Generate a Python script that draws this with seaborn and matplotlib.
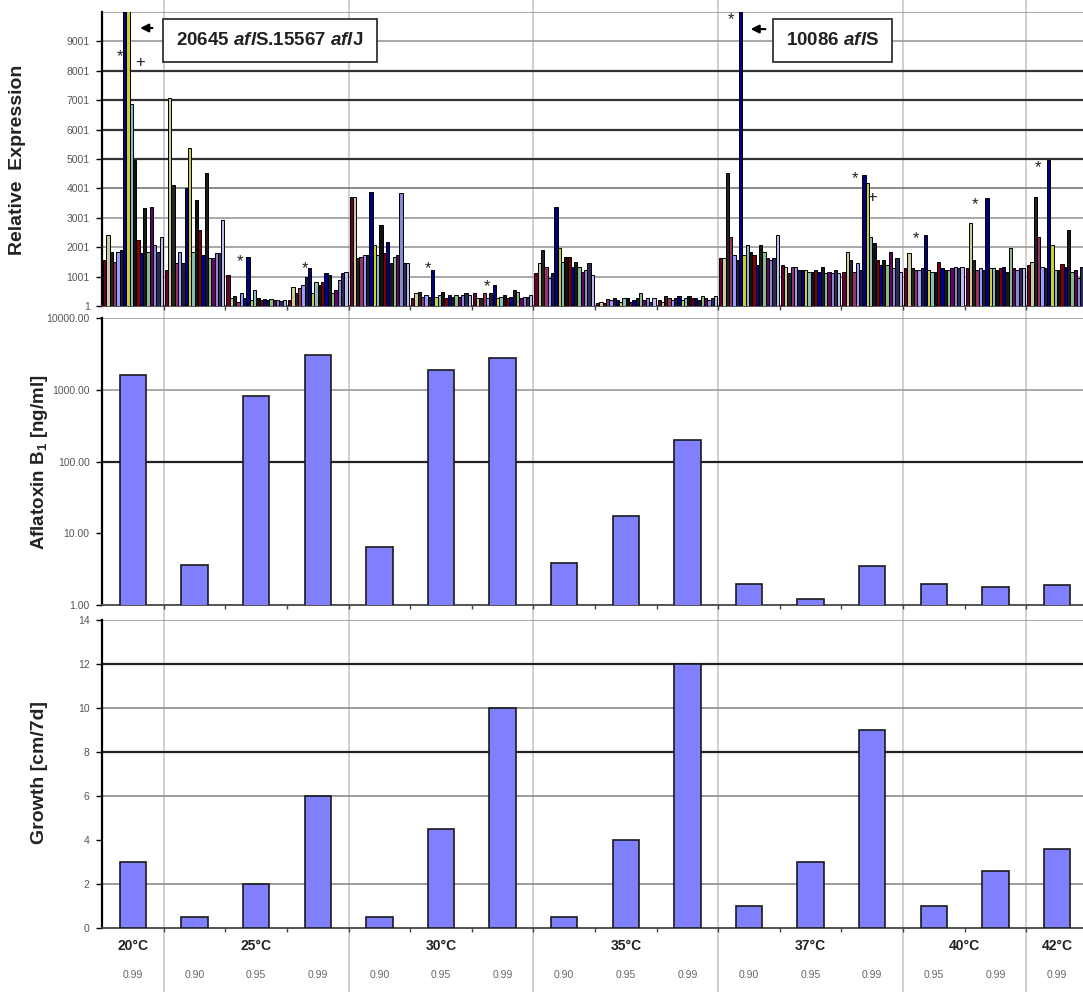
import pandas as pd
import seaborn as sns
import matplotlib.pyplot as plt
from matplotlib.lines import Line2D

# Conditions: temperature and water activity (aw)
temp_of = [20, 25, 25, 25, 30, 30, 30, 35, 35, 35, 37, 37, 37, 40, 40, 42]
aw_of = ["0.99", "0.90", "0.95", "0.99", "0.90", "0.95", "0.99", "0.90",
         "0.95", "0.99", "0.90", "0.95", "0.99", "0.95", "0.99", "0.99"]

# Relative expression of 18 cluster genes per condition (index 6 = aflS, 7 = aflJ)
genes = ["g01", "g02", "g03", "g04", "g05", "g06", "aflS", "aflJ", "g09",
         "g10", "g11", "g12", "g13", "g14", "g15", "g16", "g17", "g18"]
expr_20_99 = [1560, 2400, 1830, 1490, 1830, 1900, 20645, 15567, 6880, 4950, 2240, 1800, 3320, 1830, 3360, 2070, 1830, 2340]
expr_25_90 = [1220, 7090, 4100, 1460, 1830, 1460, 4000, 5390, 1830, 3590, 2580, 1730, 4540, 1630, 1630, 1800, 1800, 2920]
expr_25_95 = [1050, 270, 340, 140, 440, 270, 1660, 200, 550, 270, 200, 230, 200, 230, 200, 200, 180, 200]
expr_25_99 = [200, 640, 440, 610, 710, 980, 1280, 440, 810, 710, 810, 1120, 1050, 440, 540, 880, 1120, 1150]
expr_30_90 = [3700, 3700, 1630, 1660, 1730, 1730, 3870, 2070, 1730, 2750, 1800, 2170, 1460, 1660, 1730, 3830, 1460, 1460]
expr_30_95 = [270, 440, 470, 300, 370, 300, 1220, 300, 370, 470, 270, 370, 300, 370, 300, 370, 440, 370]
expr_30_99 = [440, 270, 270, 440, 270, 440, 710, 270, 300, 370, 270, 300, 540, 470, 270, 300, 300, 370]
expr_35_90 = [1120, 1460, 1900, 1320, 950, 1120, 3360, 1970, 1490, 1660, 1660, 1320, 1490, 1320, 1150, 1220, 1460, 1050]
expr_35_95 = [100, 130, 100, 250, 200, 270, 200, 150, 270, 270, 150, 200, 270, 440, 200, 270, 150, 270]
expr_35_99 = [200, 150, 340, 270, 200, 270, 340, 200, 270, 340, 270, 270, 200, 340, 270, 200, 270, 340]
expr_37_90 = [1630, 1630, 4540, 2340, 1730, 1560, 10086, 1730, 2070, 1830, 1730, 1390, 2070, 1830, 1630, 1560, 1630, 2400]
expr_37_95 = [1390, 1320, 1120, 1320, 1320, 1220, 1220, 1220, 1150, 1150, 1220, 1150, 1320, 1120, 1150, 1120, 1220, 1120]
expr_37_99 = [1150, 1830, 1560, 1150, 1460, 1220, 4440, 4200, 2340, 2140, 1560, 1390, 1560, 1390, 1830, 1290, 1630, 1150]
expr_40_95 = [1290, 1800, 1290, 1220, 1220, 1290, 2400, 1220, 1150, 1150, 1490, 1290, 1220, 1220, 1290, 1320, 1290, 1320]
expr_40_99 = [1290, 2810, 1560, 1220, 1290, 1220, 3660, 1290, 1290, 1220, 1290, 1320, 1150, 1970, 1290, 1220, 1290, 1290]
expr_42_99 = [1390, 1490, 3700, 2340, 1320, 1290, 4950, 2070, 1220, 1220, 1420, 1320, 2580, 1150, 1220, 950, 1320, 1660]

# Aflatoxin B1 [ng/ml] and growth [cm/7d]
aflatoxin = [1600, 3.6, 820, 3030, 6.4, 1900, 2770, 3.85, 17.4, 200, 1.96, 1.2, 3.5, 1.96, 1.78, 1.9]
growth = [3, 0.5, 2, 6, 0.5, 4.5, 10, 0.5, 4, 12, 1, 3, 9, 1, 2.6, 3.6]

expr_ticks = [1, 1001, 2001, 3001, 4001, 5001, 6001, 7001, 8001, 9001]
afla_ticks = [1, 10, 100, 1000, 10000]
afla_tick_labels = ["1.00", "10.00", "100.00", "1000.00", "10000.00"]
growth_ticks = [0, 2, 4, 6, 8, 10, 12, 14]

expr_rows = [expr_20_99, expr_25_90, expr_25_95, expr_25_99, expr_30_90, expr_30_95,
             expr_30_99, expr_35_90, expr_35_95, expr_35_99, expr_37_90, expr_37_95,
             expr_37_99, expr_40_95, expr_40_99, expr_42_99]

conditions = [f"{t}°C / {a}" for t, a in zip(temp_of, aw_of)]
expr_df = pd.DataFrame(
    [(c, g, v) for c, row in zip(conditions, expr_rows) for g, v in zip(genes, row)],
    columns=["condition", "gene", "expression"],
)
cond_df = pd.DataFrame({"condition": conditions, "aflatoxin": aflatoxin, "growth": growth})

gene_colors = ["#660033", "#CCCC99", "#222222", "#993366", "#9999FF", "#1a1a3a",
               "#000080", "#CCCC33", "#88BBBB", "#111111", "#800000", "#000099",
               "#1A1A1A", "#88BB88", "#660066", "#8888CC", "#2a2a55", "#BBBBEE"]
bar_blue = "#8080FF"

sns.set_theme(style="white")
plt.rcParams["font.family"] = ["Liberation Sans", "DejaVu Sans"]
plt.rcParams["mathtext.fontset"] = "custom"
plt.rcParams["mathtext.rm"] = "Liberation Sans:bold"
plt.rcParams["mathtext.it"] = "Liberation Sans:italic:bold"
plt.rcParams["mathtext.bf"] = "Liberation Sans:bold"

W, H = 1083, 992
fig = plt.figure(figsize=(W / 100, H / 100), dpi=100)
fig.patch.set_facecolor("white")


def add_panel(top, bottom):
    left, right = 102.2, 1087.8
    return fig.add_axes([left / W, 1 - bottom / H, (right - left) / W, (bottom - top) / H])


ax1 = add_panel(12, 306)
ax2 = add_panel(318, 605)
ax3 = add_panel(620, 928)

# Top: relative expression
sns.barplot(data=expr_df, x="condition", y="expression", hue="gene", order=conditions,
            hue_order=genes, palette=gene_colors, saturation=1, width=0.97,
            edgecolor="black", linewidth=0.7, errorbar=None, legend=False, ax=ax1, zorder=3)
ax1.set_ylim(1, 10001)
ax1.set_yticks(expr_ticks)
ax1.set_yticklabels([str(t) for t in expr_ticks])
grid1 = {1001: "#9a9a9a", 2001: "#9a9a9a", 3001: "#9a9a9a", 4001: "#777777",
         5001: "#333333", 6001: "#333333", 7001: "#333333", 8001: "#333333",
         9001: "#9a9a9a", 10001: "#9a9a9a"}
for v, c in grid1.items():
    ax1.axhline(v, color=c, lw=1.6 if c == "#333333" else 1.2, zorder=1)

# Middle: aflatoxin B1 (log scale)
sns.barplot(data=cond_df, x="condition", y="aflatoxin", order=conditions, color=bar_blue,
            saturation=1, width=0.43, edgecolor="#1a1a1a", linewidth=1.2, errorbar=None,
            ax=ax2, zorder=3)
ax2.set_yscale("log")
ax2.set_ylim(1, 10000)
ax2.set_yticks(afla_ticks)
ax2.set_yticklabels(afla_tick_labels)
ax2.minorticks_off()
for v, c in {100: "#222222", 1000: "#9a9a9a", 10000: "#9a9a9a"}.items():
    ax2.axhline(v, color=c, lw=1.6 if c == "#222222" else 1.2, zorder=1)

# Bottom: growth
sns.barplot(data=cond_df, x="condition", y="growth", order=conditions, color=bar_blue,
            saturation=1, width=0.43, edgecolor="#1a1a1a", linewidth=1.2, errorbar=None,
            ax=ax3, zorder=3)
ax3.set_ylim(0, 14)
ax3.set_yticks(growth_ticks)
for v, c in {2: "#8a8a8a", 6: "#8a8a8a", 8: "#222222", 10: "#8a8a8a", 12: "#222222", 14: "#9a9a9a"}.items():
    ax3.axhline(v, color=c, lw=1.6 if c == "#222222" else 1.2, zorder=1)

n = len(conditions)
for ax in (ax1, ax2, ax3):
    ax.set_facecolor("none")
    ax.set_xlim(-0.5, n - 0.5)
    ax.set_xlabel("")
    ax.set_ylabel("")
    ax.set_xticks([i + 0.5 for i in range(n - 1)])
    ax.set_xticklabels([])
    ax.tick_params(axis="x", length=3, width=1, color="#444444", direction="out", bottom=True)
    ax.tick_params(axis="y", length=4, width=1, color="black", direction="out", left=True,
                   labelsize=7.5, labelcolor="#555555", pad=5)
    ax.spines["top"].set_visible(False)
    ax.spines["right"].set_visible(False)
    ax.spines["left"].set_linewidth(1.6)
    ax.spines["left"].set_color("black")
    ax.spines["bottom"].set_linewidth(1.3)
    ax.spines["bottom"].set_color("#444444")

# Group separators through the whole figure
fig.canvas.draw()
to_fig = ax3.transData + fig.transFigure.inverted()
for i in range(n - 1):
    if temp_of[i] != temp_of[i + 1]:
        xf = to_fig.transform((i + 0.5, 0))[0]
        fig.add_artist(Line2D([xf, xf], [0, 1], transform=fig.transFigure,
                              color="#c4c4c4", lw=1.1, zorder=-1))

# Temperature and aw labels under the bottom panel
xt = ax3.get_xaxis_transform()
for t in sorted(set(temp_of)):
    idx = [i for i, v in enumerate(temp_of) if v == t]
    ax3.text(sum(idx) / len(idx), -0.058, f"{t}°C", transform=xt, ha="center", va="center",
             fontsize=10, fontweight="bold", color="#222222", clip_on=False)
for i, a in enumerate(aw_of):
    ax3.text(i, -0.153, a, transform=xt, ha="center", va="center", fontsize=7.5,
             color="#666666", clip_on=False)

# Axis titles
fig.text(18 / W, 1 - 160 / H, "Relative  Expression", rotation=90, ha="center", va="center",
         fontsize=14, fontweight="bold", color="#222222")
fig.text(40 / W, 1 - 462 / H, r"Aflatoxin B$_1$ [ng/ml]", rotation=90, ha="center",
         va="center", fontsize=13.5, fontweight="bold", color="#222222")
fig.text(40 / W, 1 - 772 / H, "Growth [cm/7d]", rotation=90, ha="center", va="center",
         fontsize=14, fontweight="bold", color="#222222")

# Call-out boxes and arrows for the clipped bars
box = dict(boxstyle="square,pad=0.7", facecolor="white", edgecolor="#333333", lw=1.3)
ax1.text(2.22, 9036, r"20645 $\mathit{afl}$S.15567 $\mathit{afl}$J", ha="center", va="center",
         fontsize=13.5, fontweight="bold", color="#222222", bbox=box, zorder=6)
ax1.text(11.35, 9036, r"10086 $\mathit{afl}$S", ha="center", va="center",
         fontsize=13.5, fontweight="bold", color="#222222", bbox=box, zorder=6)
arrow = dict(arrowstyle="-|>", color="black", lw=1.6, mutation_scale=12)
ax1.annotate("", xy=(0.07, 9457), xytext=(0.36, 9457), arrowprops=arrow, zorder=6)
ax1.annotate("", xy=(9.98, 9420), xytext=(10.31, 9420), arrowprops=arrow, zorder=6)

# Significance marks
marks = [(-0.21, 8500, "*"), (0.12, 8300, "+"), (1.74, 1500, "*"), (2.79, 1270, "*"),
         (4.79, 1270, "*"), (5.74, 650, "*"), (9.71, 9750, "*"), (11.72, 4330, "*"),
         (12.0, 3708, "+"), (12.71, 2290, "*"), (13.67, 3440, "*"), (14.69, 4700, "*")]
for x, y, s in marks:
    ax1.text(x, y, s, ha="center", va="center", fontsize=12, color="#222222", zorder=6)

fig.savefig("out.png", dpi=100, facecolor="white")
